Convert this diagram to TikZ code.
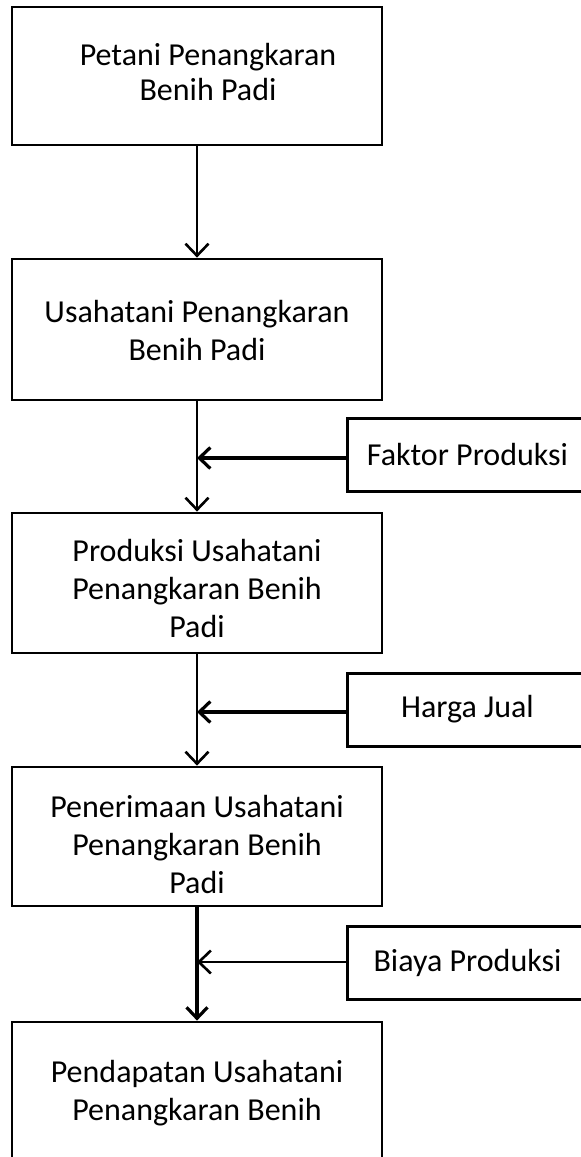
\documentclass[tikz,border=0pt]{standalone}
\usepackage{fontspec}
\setmainfont{Carlito}
\usetikzlibrary{arrows.meta}
\begin{document}
\begin{tikzpicture}[x=1pt,y=-1pt,
  box/.style={draw=black, line width=2.8pt, fill=white, minimum width=370pt, inner sep=0pt},
  sidebox/.style={draw=black, line width=3pt, fill=white, minimum width=241pt, minimum height=73pt, inner sep=0pt,
    font=\fontsize{32}{38}\selectfont},
  label/.style={align=center, inner sep=0pt, font=\fontsize{32}{38}\selectfont},
  thin/.style={line width=2pt, -{Straight Barb[length=12pt,width=23pt,line width=2.6pt]}},
  thick/.style={line width=4.5pt, -{Straight Barb[length=11pt,width=21pt,line width=3.2pt]}}]
\useasboundingbox (0,0) rectangle (581,1157);
\fill[white] (0,0) rectangle (581,1157);

% main boxes
\node[box, minimum height=138pt] (b1) at (197,76) {};
\node[box, minimum height=141pt] (b2) at (197,329.5) {};
\node[box, minimum height=140pt] (b3) at (197,583) {};
\node[box, minimum height=139pt] (b4) at (197,836.5) {};
\node[box, minimum height=178pt] (b5) at (197,1111) {};

% texts of main boxes
\node[label, font=\fontsize{32}{35}\selectfont] (t1) at (208,72) {Petani Penangkaran\\Benih Padi};
\node[label] (t2) at (197,331) {Usahatani Penangkaran\\Benih Padi};
\node[label] (t3) at (197,588) {Produksi Usahatani\\Penangkaran Benih\\Padi};
\node[label] (t4) at (197,844) {Penerimaan Usahatani\\Penangkaran Benih\\Padi};
\node[label] (t5) at (197,1093) {Pendapatan Usahatani\\Penangkaran Benih};

% side boxes
\node[sidebox] (f) at (467.5,454.5) {Faktor Produksi};
\node[sidebox] (h) at (467.5,709.5) {Harga Jual};
\node[sidebox] (c) at (467.5,963) {Biaya Produksi};

% junction points on the vertical flow
\coordinate (j1) at (197,458);
\coordinate (j2) at (197,712);
\coordinate (j3) at (197,962);

% vertical connectors
\draw[thin] (b1.south) -- (b2.north);
\draw[thin] (b2.south) -- (b3.north);
\draw[thin] (b3.south) -- (b4.north);
\draw[thick] (b4.south) -- (b5.north);

% horizontal connectors
\draw[thick] (j1 -| f.west) -- (j1);
\draw[thick] (j2 -| h.west) -- (j2);
\draw[thin] (j3 -| c.west) -- (j3);
\end{tikzpicture}
\end{document}
